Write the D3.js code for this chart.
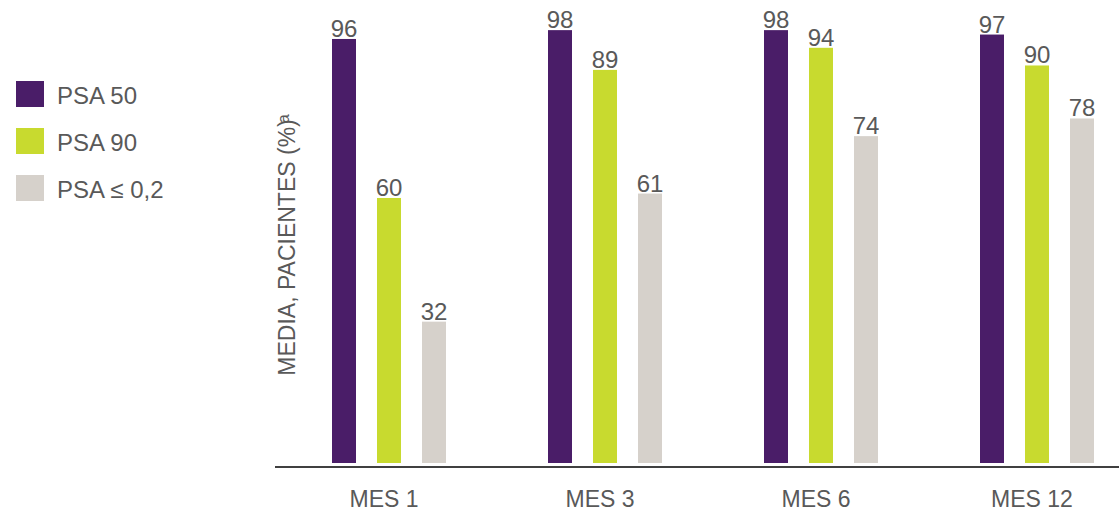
<!DOCTYPE html>
<html>
<head>
<meta charset="utf-8">
<script src="https://cdn.jsdelivr.net/npm/d3@7"></script>
<style>
  body { margin: 0; background: #fff; }
  text { font-family: "Liberation Sans", Arial, sans-serif; fill: #595959; }
</style>
</head>
<body>
<script>
// chart data
const categories = ["MES 1", "MES 3", "MES 6", "MES 12"];
const seriesNames = ["PSA 50", "PSA 90", "PSA \u2264 0,2"];
const psa50 = [96, 98, 98, 97];
const psa90 = [60, 89, 94, 90];
const psa02 = [32, 61, 74, 78];
const colors = ["#4a1d68", "#c8da2f", "#d6d1cb"];

const values = [psa50, psa90, psa02];

const width = 1119, height = 512;
const svg = d3.select("body").append("svg")
    .attr("width", width)
    .attr("height", height);

// scales
const x0 = d3.scaleBand().domain(categories).range([276, 1140]);
const x1 = d3.scalePoint().domain(seriesNames).range([56, 146]);
const barW = 24;
const y = d3.scaleLinear().domain([0, 100]).range([463, 21.3]);

// bars
const groups = svg.selectAll("g.grp")
    .data(categories)
    .enter()
    .append("g")
    .attr("class", "grp")
    .attr("transform", d => "translate(" + x0(d) + ",0)");

groups.selectAll("rect")
    .data((d, ci) => seriesNames.map((s, si) => ({ s: s, si: si, v: values[si][ci] })))
    .enter()
    .append("rect")
    .attr("x", d => x1(d.s))
    .attr("y", d => y(d.v))
    .attr("width", barW)
    .attr("height", d => y(0) - y(d.v))
    .attr("fill", d => colors[d.si]);

groups.selectAll("text.val")
    .data((d, ci) => seriesNames.map((s, si) => ({ s: s, si: si, v: values[si][ci] })))
    .enter()
    .append("text")
    .attr("class", "val")
    .attr("x", d => x1(d.s) + barW / 2)
    .attr("y", d => y(d.v) - 2)
    .attr("text-anchor", "middle")
    .style("font-size", "24px")
    .text(d => d.v);

// baseline
svg.append("line")
    .attr("x1", 275).attr("x2", width)
    .attr("y1", 467).attr("y2", 467)
    .attr("stroke", "#404040")
    .attr("stroke-width", 2);

// category labels
svg.selectAll("text.cat")
    .data(categories)
    .enter()
    .append("text")
    .attr("class", "cat")
    .attr("x", d => x0(d) + x0.bandwidth() / 2)
    .attr("y", 507)
    .attr("text-anchor", "middle")
    .style("font-size", "23px")
    .text(d => d);

// y axis title
const yt = svg.append("text")
    .attr("transform", "translate(295,245) rotate(-90)")
    .attr("text-anchor", "middle")
    .style("font-size", "23px");
yt.append("tspan").text("MEDIA, PACIENTES (%)");
yt.append("tspan").attr("dx", -4).attr("dy", -6).style("font-size", "16px").text("a");

// legend
const legend = svg.selectAll("g.leg")
    .data(seriesNames)
    .enter()
    .append("g")
    .attr("class", "leg")
    .attr("transform", (d, i) => "translate(16," + (81 + i * 47) + ")");

legend.append("rect")
    .attr("width", 28)
    .attr("height", 26)
    .attr("fill", (d, i) => colors[i]);

legend.append("text")
    .attr("x", 41)
    .attr("y", 23)
    .style("font-size", "24px")
    .text(d => d);
</script>
</body>
</html>
